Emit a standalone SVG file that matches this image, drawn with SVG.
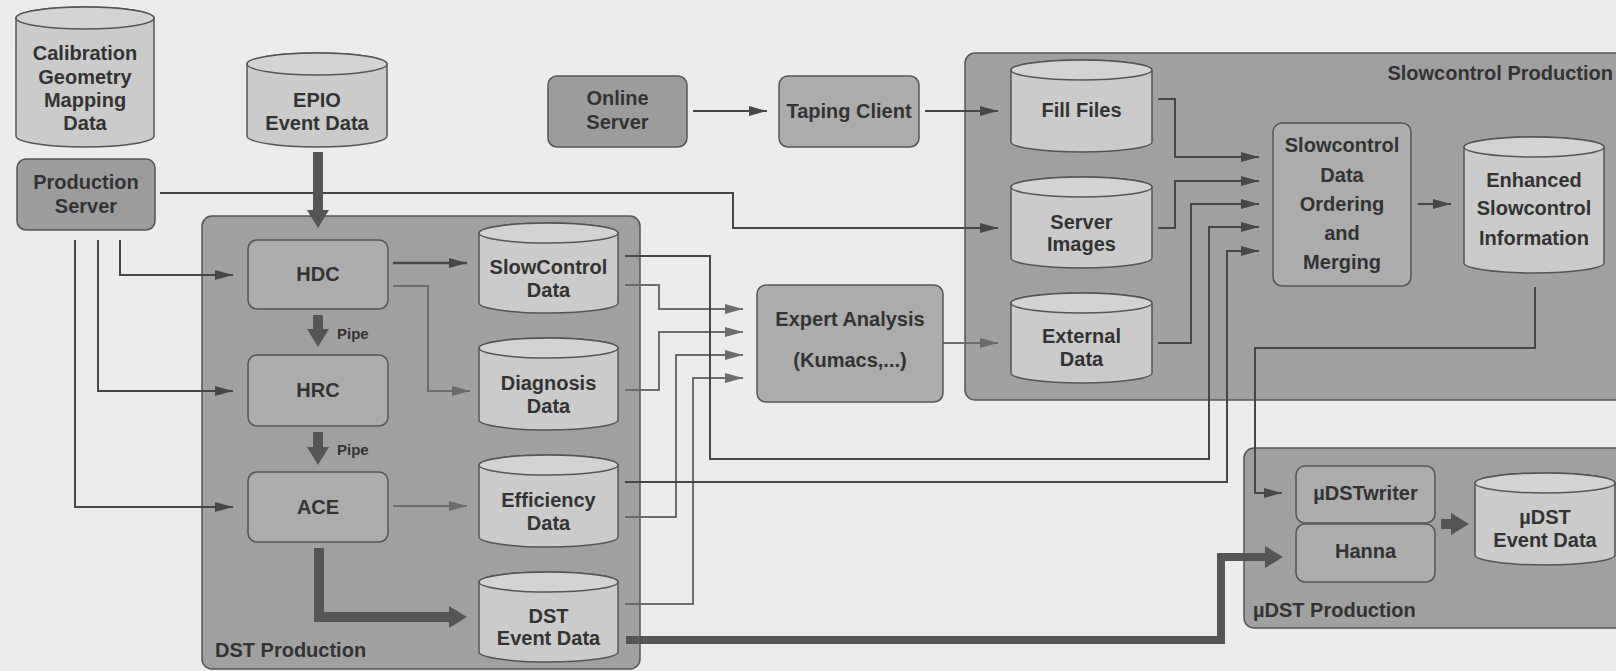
<svg xmlns="http://www.w3.org/2000/svg" width="1616" height="671" viewBox="0 0 1616 671">
<style>
  .t { font-family: "Liberation Sans", Arial, sans-serif; font-weight: bold; font-size: 20px; fill: #333; text-anchor: middle; }
  .tl { text-anchor: start; }
  .te { text-anchor: end; }
  .ts { font-size: 15px; }
  .grp { fill: #a0a0a0; stroke: #555; stroke-width: 1.5; }
  .proc { fill: #acacac; stroke: #555; stroke-width: 1.5; }
  .srv { fill: #9c9c9c; stroke: #555; stroke-width: 1.5; }
  .cyl { fill: #cbcbcb; stroke: #555; stroke-width: 1.5; }
  .cyltop { fill: #d3d3d3; stroke: #555; stroke-width: 1.5; }
  .ln { fill: none; stroke: #474747; stroke-width: 2; marker-end: url(#ah); }
  .lt { fill: none; stroke: #6c6c6c; stroke-width: 2; marker-end: url(#ahl); }
  .thick { fill: none; stroke: #555; stroke-width: 10; marker-end: url(#big); }
  .thick8 { fill: none; stroke: #555; stroke-width: 8; marker-end: url(#big); }
</style>
<defs>
  <marker id="ah" markerUnits="userSpaceOnUse" markerWidth="18" markerHeight="10" refX="18" refY="5" orient="auto">
    <path d="M0,0 L18,5 L0,10 z" fill="#474747"/>
  </marker>
  <marker id="ahl" markerUnits="userSpaceOnUse" markerWidth="18" markerHeight="10" refX="18" refY="5" orient="auto">
    <path d="M0,0 L18,5 L0,10 z" fill="#6c6c6c"/>
  </marker>
  <marker id="big" markerUnits="userSpaceOnUse" markerWidth="18" markerHeight="22" refX="2" refY="11" orient="auto">
    <path d="M0,0 L18,11 L0,22 z" fill="#555"/>
  </marker>
</defs>
<rect x="0" y="0" width="1616" height="671" fill="#ececec"/>

<!-- containers -->
<g id="dst-production">
  <rect class="grp" x="202" y="216" width="438" height="453" rx="10"/>
  <text class="t tl" x="215" y="657">DST Production</text>
</g>
<g id="slowcontrol-production">
  <rect class="grp" x="965" y="53" width="700" height="347" rx="10"/>
  <text class="t te" x="1613" y="80">Slowcontrol Production</text>
</g>
<g id="udst-production">
  <rect class="grp" x="1244" y="448" width="400" height="180" rx="10"/>
  <text class="t tl" x="1253" y="617">µDST Production</text>
</g>

<!-- connectors -->
<g id="connectors">
  <path class="ln" d="M120 240 V275 H233"/>
  <path class="ln" d="M98 240 V391 H233"/>
  <path class="ln" d="M75 240 V507 H233"/>
  <path class="ln" d="M160 193 H733 V228 H998"/>
  <path class="ln" d="M693 111 H767"/>
  <path class="ln" d="M925 111 H998"/>
  <path class="lt" d="M943 343 H998"/>
  <path class="ln" d="M393 263 H467" style="stroke-width:2.5"/>
  <path class="lt" d="M393 286 H428 V391 H470"/>
  <path class="lt" d="M393 506 H467"/>
  <path class="lt" d="M625 285 H659 V309 H743"/>
  <path class="lt" d="M625 390 H659 V332 H743"/>
  <path class="lt" d="M625 517 H676 V355 H743"/>
  <path class="lt" d="M625 604 H693 V378 H743"/>
  <path class="ln" d="M625 256 H710 V459 H1209 V227 H1259"/>
  <path class="ln" d="M625 482 H1227 V251 H1259"/>
  <path class="ln" d="M1158 99 H1175 V157 H1259"/>
  <path class="ln" d="M1158 228 H1175 V181 H1259"/>
  <path class="ln" d="M1158 343 H1191 V204 H1259"/>
  <path class="ln" d="M1418 204 H1451"/>
  <path class="ln" d="M1535 287 V348 H1255 V493 H1282"/>
  <path class="thick" d="M318 152 V212"/>
  <path class="thick" d="M318 315 V331"/>
  <text class="t tl ts" x="337" y="339">Pipe</text>
  <path class="thick" d="M318 432 V449"/>
  <text class="t tl ts" x="337" y="455">Pipe</text>
  <path class="thick" d="M319 548 V617 H451"/>
  <path class="thick8" d="M626 640 H1221 V557 H1267"/>
  <path class="thick" d="M1441 524 H1453"/>
</g>

<!-- nodes -->
<g id="calibration-data">
  <path class="cyl" d="M16 18 A69 11 0 0 1 154 18 V136 A69 11 0 0 1 16 136 Z"/>
  <ellipse class="cyltop" cx="85" cy="18" rx="69" ry="11"/>
  <text class="t" x="85" y="60">Calibration</text>
  <text class="t" x="85" y="84">Geometry</text>
  <text class="t" x="85" y="107">Mapping</text>
  <text class="t" x="85" y="130">Data</text>
</g>
<g id="production-server">
  <rect class="srv" x="17" y="159" width="138" height="71" rx="9"/>
  <text class="t" x="86" y="189">Production</text>
  <text class="t" x="86" y="213">Server</text>
</g>
<g id="epio-event-data">
  <path class="cyl" d="M247 64 A70 11 0 0 1 387 64 V136 A70 11 0 0 1 247 136 Z"/>
  <ellipse class="cyltop" cx="317" cy="64" rx="70" ry="11"/>
  <text class="t" x="317" y="107">EPIO</text>
  <text class="t" x="317" y="130">Event Data</text>
</g>
<g id="hdc">
  <rect class="proc" x="248" y="240" width="140" height="69" rx="9"/>
  <text class="t" x="318" y="281">HDC</text>
</g>
<g id="hrc">
  <rect class="proc" x="248" y="355" width="140" height="71" rx="9"/>
  <text class="t" x="318" y="397">HRC</text>
</g>
<g id="ace">
  <rect class="proc" x="248" y="472" width="140" height="70" rx="9"/>
  <text class="t" x="318" y="514">ACE</text>
</g>
<g id="slowcontrol-data">
  <path class="cyl" d="M479 233 A69.5 10 0 0 1 618 233 V303 A69.5 10 0 0 1 479 303 Z"/>
  <ellipse class="cyltop" cx="548.5" cy="233" rx="69.5" ry="10"/>
  <text class="t" x="548.5" y="274">SlowControl</text>
  <text class="t" x="548.5" y="297">Data</text>
</g>
<g id="diagnosis-data">
  <path class="cyl" d="M479 348 A69.5 10 0 0 1 618 348 V420 A69.5 10 0 0 1 479 420 Z"/>
  <ellipse class="cyltop" cx="548.5" cy="348" rx="69.5" ry="10"/>
  <text class="t" x="548.5" y="390">Diagnosis</text>
  <text class="t" x="548.5" y="413">Data</text>
</g>
<g id="efficiency-data">
  <path class="cyl" d="M479 465 A69.5 10 0 0 1 618 465 V537 A69.5 10 0 0 1 479 537 Z"/>
  <ellipse class="cyltop" cx="548.5" cy="465" rx="69.5" ry="10"/>
  <text class="t" x="548.5" y="507">Efficiency</text>
  <text class="t" x="548.5" y="530">Data</text>
</g>
<g id="dst-event-data">
  <path class="cyl" d="M479 582 A69.5 10 0 0 1 618 582 V652 A69.5 10 0 0 1 479 652 Z"/>
  <ellipse class="cyltop" cx="548.5" cy="582" rx="69.5" ry="10"/>
  <text class="t" x="548.5" y="623">DST</text>
  <text class="t" x="548.5" y="645">Event Data</text>
</g>
<g id="online-server">
  <rect class="srv" x="548" y="76" width="139" height="71" rx="9"/>
  <text class="t" x="617.5" y="105">Online</text>
  <text class="t" x="617.5" y="129">Server</text>
</g>
<g id="taping-client">
  <rect class="proc" x="779" y="76" width="140" height="71" rx="9"/>
  <text class="t" x="849" y="118">Taping Client</text>
</g>
<g id="expert-analysis">
  <rect class="proc" x="757" y="285" width="186" height="117" rx="9"/>
  <text class="t" x="850" y="326">Expert Analysis</text>
  <text class="t" x="850" y="367">(Kumacs,...)</text>
</g>
<g id="fill-files">
  <path class="cyl" d="M1011 70 A70.5 10 0 0 1 1152 70 V142 A70.5 10 0 0 1 1011 142 Z"/>
  <ellipse class="cyltop" cx="1081.5" cy="70" rx="70.5" ry="10"/>
  <text class="t" x="1081.5" y="117">Fill Files</text>
</g>
<g id="server-images">
  <path class="cyl" d="M1011 187 A70.5 10 0 0 1 1152 187 V258 A70.5 10 0 0 1 1011 258 Z"/>
  <ellipse class="cyltop" cx="1081.5" cy="187" rx="70.5" ry="10"/>
  <text class="t" x="1081.5" y="229">Server</text>
  <text class="t" x="1081.5" y="251">Images</text>
</g>
<g id="external-data">
  <path class="cyl" d="M1011 303 A70.5 10 0 0 1 1152 303 V373 A70.5 10 0 0 1 1011 373 Z"/>
  <ellipse class="cyltop" cx="1081.5" cy="303" rx="70.5" ry="10"/>
  <text class="t" x="1081.5" y="343">External</text>
  <text class="t" x="1081.5" y="366">Data</text>
</g>
<g id="ordering-merging">
  <rect class="proc" x="1273" y="123" width="138" height="163" rx="9"/>
  <text class="t" x="1342" y="152">Slowcontrol</text>
  <text class="t" x="1342" y="182">Data</text>
  <text class="t" x="1342" y="211">Ordering</text>
  <text class="t" x="1342" y="240">and</text>
  <text class="t" x="1342" y="269">Merging</text>
</g>
<g id="enhanced-slowcontrol">
  <path class="cyl" d="M1464 147 A70 10 0 0 1 1604 147 V263 A70 10 0 0 1 1464 263 Z"/>
  <ellipse class="cyltop" cx="1534" cy="147" rx="70" ry="10"/>
  <text class="t" x="1534" y="187">Enhanced</text>
  <text class="t" x="1534" y="215">Slowcontrol</text>
  <text class="t" x="1534" y="245">Information</text>
</g>
<g id="udstwriter">
  <rect class="proc" x="1296" y="466" width="139" height="57" rx="9"/>
  <text class="t" x="1365.5" y="500">µDSTwriter</text>
</g>
<g id="hanna">
  <rect class="proc" x="1296" y="524" width="139" height="58" rx="9"/>
  <text class="t" x="1365.5" y="558">Hanna</text>
</g>
<g id="udst-event-data">
  <path class="cyl" d="M1475 483 A70 10 0 0 1 1615 483 V555 A70 10 0 0 1 1475 555 Z"/>
  <ellipse class="cyltop" cx="1545" cy="483" rx="70" ry="10"/>
  <text class="t" x="1545" y="524">µDST</text>
  <text class="t" x="1545" y="547">Event Data</text>
</g>
</svg>
